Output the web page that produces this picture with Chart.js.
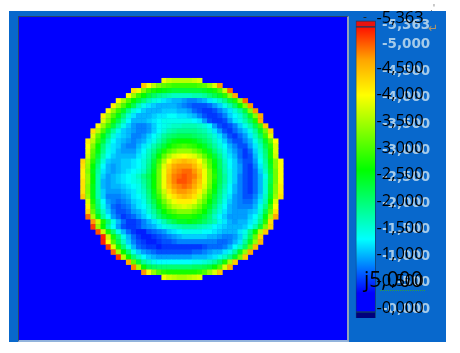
<!DOCTYPE html>
<html>
<head>
<meta charset="utf-8">
<title>Thickness map</title>
<script src="https://cdn.jsdelivr.net/npm/chart.js@4"></script>
<style>
  html, body { margin: 0; padding: 0; background: #fff; }
  body { position: relative; width: 460px; height: 353px; overflow: hidden; font-family: "Open Sans", sans-serif; }
  #frame { position: absolute; left: 9px; top: 11px; width: 437px; height: 331px; background: #0868cc; }
  #plotBox { position: absolute; left: 18px; top: 16px; width: 328px; height: 323px; background: #0000ff;
    border-left: 1px solid #2b4468; border-top: 1px solid #2b4468; border-right: 2px solid #93a3ba; border-bottom: 2px solid #93b4dc; }
  #heat { display: block; filter: blur(0.6px); }
  #scaleBar { position: absolute; left: 355px; top: 0; }
  .note { position: absolute; white-space: nowrap; line-height: 1; }
  #stamp { left: 364px; top: 269px; font-size: 21px; color: #000; }
  #squiggle { position: absolute; left: 380px; top: 290px; width: 45px; border-bottom: 1px dotted #2f9e44; }
  #returnMark { left: 428px; top: 21px; font: 12px "DejaVu Sans"; color: #b0976a; }
  #cornerMark { left: 430px; top: 3px; font: 9px "DejaVu Sans"; color: #777; }
  #topDash { left: 363px; top: 11px; font-size: 12px; color: #222; }
</style>
</head>
<body>
<div id="frame"></div>
<div id="plotBox"><canvas id="heat" width="328" height="323"></canvas></div>
<canvas id="scaleBar" width="91" height="353"></canvas>
<span class="note" id="topDash">-</span>
<span class="note" id="stamp">j5,000</span>
<div id="squiggle"></div>
<span class="note" id="returnMark">↵</span>
<span class="note" id="cornerMark">.'</span>
<script>
// first column of each row of the disc, rows run top to bottom
const rowStarts = [16, 12, 10, 9, 7, 6, 5, 4, 4, 3, 2, 2, 1, 1, 1, 1, 0, 0, 0, 0, 0, 0, 0, 0, 1, 1, 1, 1, 2, 2, 3, 4, 4, 5, 6, 7, 9, 10, 12, 16];

// cell values, in hundreds
const heatRows = [
  [39, 37, 36, 36, 36, 36, 37, 38],
  [44, 40, 36, 33, 31, 30, 29, 29, 29, 29, 29, 30, 31, 34, 38, 47],
  [42, 39, 33, 29, 27, 26, 25, 24, 23, 23, 23, 23, 23, 23, 24, 25, 27, 30, 37, 49],
  [40, 34, 29, 26, 23, 21, 19, 18, 17, 16, 16, 16, 16, 17, 17, 18, 20, 22, 24, 28, 34, 46],
  [40, 35, 30, 26, 23, 20, 17, 15, 14, 12, 11, 10, 10, 9, 8, 8, 9, 10, 12, 14, 16, 19, 23, 27, 34, 49],
  [41, 35, 30, 26, 22, 17, 14, 12, 11, 10, 10, 10, 10, 9, 8, 7, 6, 6, 6, 7, 9, 11, 14, 17, 21, 26, 33, 47],
  [40, 34, 29, 24, 19, 15, 13, 11, 10, 10, 10, 11, 11, 11, 10, 10, 9, 7, 6, 5, 5, 6, 8, 10, 12, 15, 18, 23, 33, 47],
  [41, 35, 30, 25, 20, 15, 12, 10, 10, 10, 11, 12, 12, 13, 13, 12, 12, 11, 10, 8, 6, 5, 5, 6, 8, 11, 13, 15, 19, 24, 33, 46],
  [38, 33, 27, 22, 17, 13, 10, 10, 10, 11, 12, 13, 14, 14, 14, 14, 14, 14, 13, 12, 9, 6, 5, 5, 6, 9, 12, 14, 17, 21, 27, 46],
  [40, 34, 29, 23, 18, 14, 11, 9, 8, 8, 9, 11, 13, 14, 15, 16, 16, 17, 17, 17, 16, 15, 13, 9, 6, 5, 6, 8, 11, 14, 17, 22, 29, 44],
  [42, 36, 30, 23, 18, 14, 11, 10, 9, 8, 8, 9, 11, 13, 15, 17, 18, 19, 19, 19, 19, 18, 17, 15, 12, 9, 6, 5, 7, 9, 11, 14, 18, 24, 32, 43],
  [38, 31, 25, 20, 15, 12, 11, 10, 8, 8, 9, 11, 13, 15, 18, 20, 21, 22, 22, 22, 21, 20, 19, 17, 15, 12, 9, 6, 5, 7, 9, 12, 16, 21, 29, 38],
  [41, 36, 29, 23, 17, 13, 11, 10, 9, 8, 9, 10, 12, 14, 17, 20, 23, 25, 26, 26, 26, 25, 23, 21, 19, 16, 14, 11, 8, 6, 6, 8, 10, 14, 18, 24, 31, 40],
  [40, 33, 26, 20, 15, 12, 11, 9, 8, 8, 10, 12, 14, 17, 20, 23, 26, 28, 29, 30, 29, 28, 26, 24, 21, 18, 15, 13, 10, 8, 6, 6, 9, 12, 16, 22, 28, 38],
  [39, 31, 25, 19, 14, 12, 10, 9, 9, 9, 11, 13, 16, 19, 23, 27, 30, 32, 34, 34, 34, 32, 30, 27, 24, 20, 17, 14, 11, 9, 7, 5, 7, 11, 15, 20, 27, 38],
  [38, 30, 23, 17, 13, 11, 10, 10, 10, 10, 12, 14, 17, 21, 26, 31, 35, 38, 39, 40, 39, 38, 35, 31, 27, 23, 19, 15, 12, 10, 7, 5, 6, 10, 14, 19, 27, 37],
  [43, 35, 28, 21, 15, 11, 10, 10, 11, 11, 12, 13, 15, 18, 23, 29, 35, 40, 43, 44, 45, 44, 43, 40, 35, 30, 25, 21, 16, 13, 11, 8, 6, 6, 9, 13, 18, 25, 33, 40],
  [42, 34, 26, 19, 13, 10, 9, 10, 11, 11, 12, 13, 15, 19, 24, 31, 38, 43, 46, 47, 47, 47, 45, 42, 37, 31, 26, 21, 17, 13, 11, 9, 6, 5, 8, 12, 17, 24, 33, 40],
  [41, 33, 25, 18, 12, 10, 9, 10, 11, 12, 13, 14, 16, 20, 25, 32, 39, 44, 47, 48, 49, 49, 47, 44, 39, 33, 27, 22, 17, 14, 11, 9, 6, 5, 7, 11, 16, 23, 32, 40],
  [41, 34, 26, 17, 11, 9, 10, 11, 12, 13, 14, 16, 19, 22, 26, 32, 39, 45, 48, 49, 50, 49, 48, 45, 39, 33, 28, 22, 18, 14, 11, 8, 6, 5, 7, 10, 14, 22, 32, 40],
  [42, 34, 26, 17, 10, 9, 10, 11, 12, 13, 14, 15, 18, 21, 26, 32, 39, 45, 48, 50, 50, 49, 47, 44, 39, 33, 27, 22, 18, 14, 11, 8, 6, 5, 7, 10, 15, 22, 32, 40],
  [42, 33, 25, 17, 10, 9, 10, 10, 11, 12, 13, 14, 17, 21, 26, 32, 39, 44, 47, 48, 49, 48, 46, 43, 38, 32, 26, 21, 17, 13, 10, 8, 6, 5, 7, 10, 15, 23, 33, 41],
  [42, 33, 25, 17, 11, 9, 9, 9, 10, 11, 12, 14, 16, 20, 25, 31, 37, 42, 45, 47, 47, 46, 44, 41, 36, 30, 25, 20, 16, 13, 10, 8, 6, 5, 7, 10, 15, 23, 33, 41],
  [44, 34, 25, 17, 11, 8, 8, 8, 9, 10, 12, 13, 15, 19, 24, 29, 35, 39, 42, 44, 45, 44, 42, 38, 33, 28, 23, 19, 15, 12, 9, 8, 6, 6, 8, 11, 16, 24, 34, 42],
  [38, 27, 19, 13, 9, 8, 7, 8, 9, 11, 12, 14, 18, 22, 27, 32, 36, 39, 41, 41, 41, 39, 35, 31, 26, 22, 18, 14, 11, 9, 8, 7, 7, 9, 12, 17, 26, 38],
  [41, 29, 20, 14, 10, 7, 6, 7, 8, 10, 12, 13, 16, 20, 25, 29, 33, 36, 37, 38, 37, 35, 32, 28, 24, 20, 16, 13, 10, 9, 8, 8, 8, 10, 14, 19, 29, 40],
  [43, 31, 22, 16, 11, 8, 6, 6, 7, 9, 10, 12, 15, 18, 22, 26, 29, 31, 33, 33, 33, 31, 29, 26, 22, 18, 15, 12, 10, 9, 9, 9, 10, 11, 15, 22, 31, 42],
  [49, 35, 25, 18, 13, 9, 7, 5, 6, 7, 9, 11, 13, 16, 20, 23, 25, 27, 28, 28, 28, 27, 25, 23, 20, 16, 13, 11, 9, 9, 9, 9, 11, 13, 17, 25, 35, 46],
  [47, 37, 27, 20, 14, 10, 7, 5, 5, 6, 8, 10, 12, 14, 17, 20, 22, 24, 24, 25, 24, 23, 21, 19, 17, 14, 12, 10, 9, 10, 10, 12, 14, 19, 28, 42],
  [51, 34, 26, 18, 13, 9, 6, 5, 5, 6, 8, 9, 10, 12, 14, 15, 16, 17, 18, 18, 18, 17, 16, 15, 13, 12, 11, 10, 10, 10, 11, 13, 17, 23, 33, 43],
  [50, 37, 27, 20, 14, 10, 7, 5, 4, 4, 6, 7, 8, 9, 11, 12, 13, 14, 14, 14, 14, 13, 13, 12, 11, 10, 10, 10, 12, 14, 19, 26, 36, 44],
  [52, 37, 27, 20, 14, 10, 7, 5, 4, 4, 5, 6, 7, 8, 9, 10, 11, 11, 11, 11, 11, 10, 10, 9, 8, 8, 9, 11, 15, 21, 31, 43],
  [52, 40, 30, 22, 16, 11, 8, 6, 5, 4, 4, 5, 6, 6, 7, 8, 8, 8, 8, 8, 8, 8, 8, 7, 7, 8, 10, 12, 18, 24, 34, 45],
  [51, 38, 27, 20, 14, 10, 7, 6, 5, 5, 4, 5, 5, 5, 5, 5, 5, 5, 5, 6, 7, 7, 7, 8, 10, 13, 16, 21, 31, 45],
  [49, 35, 26, 20, 14, 11, 9, 8, 7, 6, 6, 6, 6, 6, 6, 6, 7, 7, 8, 9, 10, 10, 12, 14, 18, 24, 34, 46],
  [51, 36, 26, 20, 16, 13, 11, 10, 9, 9, 9, 9, 9, 9, 9, 10, 10, 10, 11, 12, 14, 16, 19, 24, 32, 44],
  [46, 31, 23, 18, 16, 14, 13, 13, 13, 13, 13, 13, 13, 14, 14, 15, 16, 18, 21, 27, 35, 44],
  [48, 35, 26, 22, 21, 20, 20, 20, 20, 20, 20, 20, 21, 21, 22, 23, 26, 30, 38, 46],
  [47, 40, 34, 30, 28, 27, 27, 27, 27, 27, 27, 28, 30, 34, 38, 44],
  [39, 37, 36, 35, 35, 36, 37, 38]
];

// colour ramp of the map
const stopValues = [-56, 280, 1290, 2590, 3990, 4650, 5270, 5344];
const stopColors = [[0, 0, 255], [0, 0, 255], [0, 255, 255], [0, 255, 0], [255, 255, 0], [255, 165, 0], [255, 16, 0], [255, 0, 0]];

// tick values and their labels, the 5,363 label sits a little above its value
const tickValues = [5433, 4500, 4000, 3500, 3000, 2500, 2000, 1500, 1000, 500, 0];
const tickLabels = ['-5,363', '-4,500', '-4,000', '-3,500', '-3,000', '-2,500', '-2,000', '-1,500', '-1,000', '-0,500', '-0,000'];
const ghostValues = [5363, 5000, 4500, 4000, 3500, 3000, 2500, 2000, 1500, 1000, 500, 0];
const ghostLabels = ['-5,363', '-5,000', '-4,500', '-4,000', '-3,500', '-3,000', '-2,500', '-2,000', '-1,500', '-1,000', '-500', '-0,000'];

const colorFor = (value) => {
  let i = 0;
  while (i < stopValues.length - 2 && value > stopValues[i + 1]) i++;
  const t = Math.min(1, Math.max(0, (value - stopValues[i]) / (stopValues[i + 1] - stopValues[i])));
  const c = stopColors[i].map((v, k) => Math.round(v + (stopColors[i + 1][k] - v) * t));
  return `rgb(${c[0]},${c[1]},${c[2]})`;
};

const cells = [];
const cellColors = [];
heatRows.forEach((row, r) => {
  row.forEach((v, k) => {
    cells.push({ x: rowStarts[r] + k + 0.5, y: r + 0.5 });
    cellColors.push(colorFor(v * 100));
  });
});

new Chart(document.getElementById('heat'), {
  type: 'scatter',
  data: {
    datasets: [{
      data: cells,
      pointStyle: 'rect',
      pointRadius: 3.9,
      pointBorderWidth: 0,
      pointBackgroundColor: cellColors
    }]
  },
  options: {
    responsive: false,
    animation: false,
    layout: { padding: 0, autoPadding: false },
    plugins: { legend: { display: false }, tooltip: { enabled: false } },
    scales: {
      x: { display: false, min: -12.13, max: 52.56 },
      y: { display: false, reverse: true, min: -12.14, max: 51.94 }
    }
  }
});

// gradient follows the black axis so the ramp lines up with its labels
const rampFill = (ctx) => {
  const chart = ctx.chart;
  if (!chart.chartArea) return '#00f';
  const scale = chart.scales.y;
  const lo = scale.getPixelForValue(stopValues[0]);
  const hi = scale.getPixelForValue(stopValues[stopValues.length - 1]);
  const grad = chart.ctx.createLinearGradient(0, lo, 0, hi);
  stopValues.forEach((v, i) => {
    const c = stopColors[i];
    grad.addColorStop((v - stopValues[0]) / (stopValues[stopValues.length - 1] - stopValues[0]), `rgb(${c[0]},${c[1]},${c[2]})`);
  });
  return grad;
};

const barBase = { grouped: false, barThickness: 20, borderColor: '#123a66', borderWidth: 1, borderSkipped: false };

// mirrored labels take no room, and the big tick padding must not eat into the bar height
const squeezeAxis = (axis) => {
  axis.width = 0;
  axis.paddingTop = 0;
  axis.paddingBottom = 0;
};

new Chart(document.getElementById('scaleBar'), {
  type: 'bar',
  data: {
    labels: ['ramp'],
    datasets: [
      { ...barBase, data: [[5344, 5456]], backgroundColor: '#e8120e' },
      { ...barBase, data: [[-56, 5344]], backgroundColor: rampFill },
      { ...barBase, data: [[-187, -56]], backgroundColor: '#00007c' }
    ]
  },
  options: {
    responsive: false,
    animation: false,
    layout: { autoPadding: false, padding: { top: 17, bottom: 35, left: 0.7, right: 70.3 } },
    plugins: { legend: { display: false }, tooltip: { enabled: false } },
    scales: {
      x: { display: false },
      // both label sets are mirrored so they can overlap each other, right edge = axis left + padding
      ghost: {
        position: 'right',
        min: -170,
        max: 5530,
        z: 0,
        grid: { display: false, drawTicks: false },
        border: { display: false },
        afterFit: squeezeAxis,
        afterBuildTicks: (axis) => { axis.ticks = ghostValues.map(value => ({ value })); },
        ticks: {
          mirror: true,
          padding: 54.5,
          autoSkip: false,
          color: '#a6cbe9',
          font: { family: 'DejaVu Sans', weight: 'bold', size: 13.5 },
          callback: (value) => ghostLabels[ghostValues.indexOf(value)]
        }
      },
      y: {
        position: 'right',
        min: -187,
        max: 5456,
        z: 1,
        grid: { display: false, drawTicks: false },
        border: { display: false },
        afterFit: squeezeAxis,
        afterBuildTicks: (axis) => { axis.ticks = tickValues.map(value => ({ value })); },
        ticks: {
          mirror: true,
          padding: 48,
          autoSkip: false,
          color: '#000',
          font: { family: 'Open Sans', size: 16.5 },
          callback: (value) => tickLabels[tickValues.indexOf(value)]
        }
      }
    }
  }
});
</script>
</body>
</html>
